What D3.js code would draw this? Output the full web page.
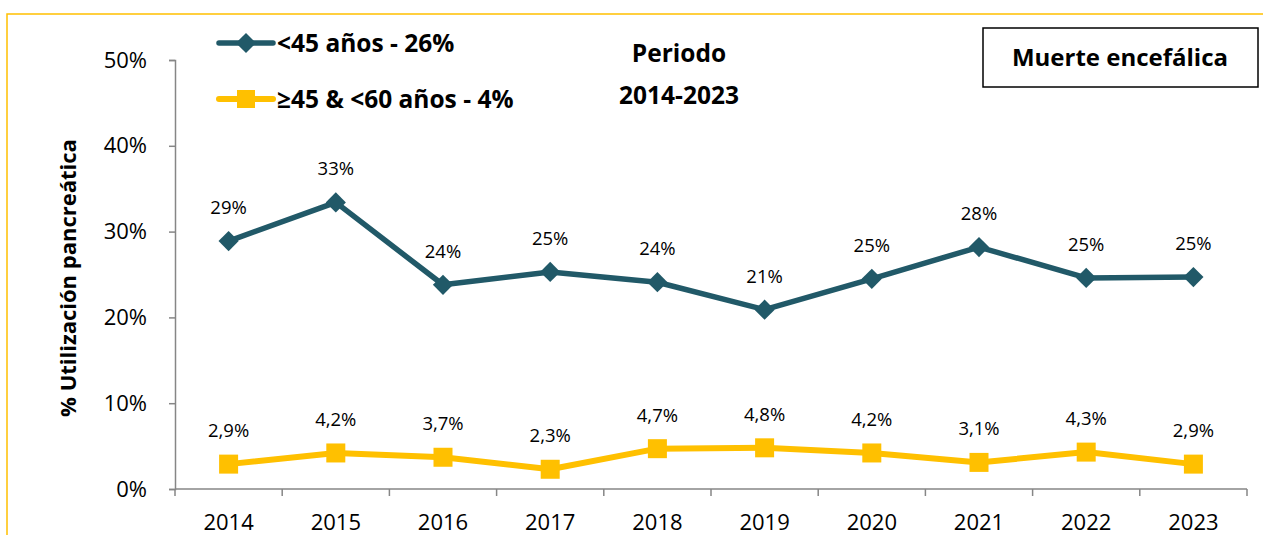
<!DOCTYPE html>
<html>
<head>
<meta charset="utf-8">
<script src="https://cdn.jsdelivr.net/npm/d3@7"></script>
<style>
  body { margin: 0; background: #fff; }
  svg { font-family: "Open Sans", sans-serif; }
</style>
</head>
<body>
<svg width="1263" height="535"></svg>
<script>
// chart values
var years = ["2014","2015","2016","2017","2018","2019","2020","2021","2022","2023"];
var under45 = [28.9, 33.4, 23.8, 25.3, 24.1, 20.9, 24.5, 28.2, 24.6, 24.7];
var under45Labels = ["29%","33%","24%","25%","24%","21%","25%","28%","25%","25%"];
var from45to60 = [2.9, 4.2, 3.7, 2.3, 4.7, 4.8, 4.2, 3.1, 4.3, 2.9];
var from45to60Labels = ["2,9%","4,2%","3,7%","2,3%","4,7%","4,8%","4,2%","3,1%","4,3%","2,9%"];
var yTicks = [0, 10, 20, 30, 40, 50];
var legendNames = ["<45 años - 26%", "≥45 & <60 años - 4%"];

var svg = d3.select("svg");
var blue = "#215968", gold = "#FFC000", axisGrey = "#868686";

// outer yellow frame
svg.append("rect")
  .attr("x", 7).attr("y", 14).attr("width", 1270).attr("height", 540)
  .attr("fill", "none").attr("stroke", "#FFC000").attr("stroke-width", 1.5);

var x = d3.scaleBand().domain(years).range([175, 1247]);
var y = d3.scaleLinear().domain([0, 50]).range([489, 60]);

// axes
var yAxisG = svg.append("g")
  .attr("transform", "translate(175,0)")
  .call(d3.axisLeft(y).tickValues(yTicks).tickSize(6).tickPadding(22).tickFormat(function(d){ return d + "%"; }));
var xAxisG = svg.append("g")
  .attr("transform", "translate(0,489)")
  .call(d3.axisBottom(x).tickSize(0).tickPadding(25));

[yAxisG, xAxisG].forEach(function(g){
  g.select(".domain").attr("stroke", axisGrey).attr("stroke-width", 1.5);
  g.selectAll(".tick line").attr("stroke", axisGrey).attr("stroke-width", 1.5);
  g.selectAll(".tick text").attr("fill", "#000").style("font-size", "22px").style("font-family", "Open Sans");
});
xAxisG.select(".domain").attr("d", "M175,0H1247");
// tick marks between categories
xAxisG.selectAll(".sep").data(d3.range(years.length + 1)).enter().append("line")
  .attr("x1", function(i){ return 175 + i * x.bandwidth(); })
  .attr("x2", function(i){ return 175 + i * x.bandwidth(); })
  .attr("y1", 0).attr("y2", 7)
  .attr("stroke", axisGrey).attr("stroke-width", 1.5);

// y axis title
svg.append("text")
  .attr("transform", "translate(76,278) rotate(-90)")
  .attr("text-anchor", "middle")
  .style("font-size", "22px").style("font-weight", "bold")
  .text("% Utilización pancreática");

var cx = function(d, i){ return x(years[i]) + x.bandwidth() / 2; };
var line = d3.line().x(cx).y(function(d){ return y(d); });

// series 1 - diamonds
svg.append("path").datum(under45)
  .attr("d", line).attr("fill", "none")
  .attr("stroke", blue).attr("stroke-width", 5.5).attr("stroke-linejoin", "round");
svg.selectAll(".dia").data(under45).enter().append("path")
  .attr("d", d3.symbol().type(d3.symbolDiamond2).size(260))
  .attr("transform", function(d, i){ return "translate(" + cx(d, i) + "," + y(d) + ")"; })
  .attr("fill", blue);
svg.selectAll(".lab1").data(under45).enter().append("text")
  .attr("x", cx).attr("y", function(d){ return y(d) - 27; })
  .attr("text-anchor", "middle").style("font-size", "18.5px")
  .text(function(d, i){ return under45Labels[i]; });

// series 2 - squares
svg.append("path").datum(from45to60)
  .attr("d", line).attr("fill", "none")
  .attr("stroke", gold).attr("stroke-width", 6).attr("stroke-linejoin", "round");
svg.selectAll(".sq").data(from45to60).enter().append("rect")
  .attr("x", function(d, i){ return cx(d, i) - 9.5; })
  .attr("y", function(d){ return y(d) - 9.5; })
  .attr("width", 19).attr("height", 19).attr("fill", gold);
svg.selectAll(".lab2").data(from45to60).enter().append("text")
  .attr("x", cx).attr("y", function(d){ return y(d) - 27; })
  .attr("text-anchor", "middle").style("font-size", "18.5px")
  .text(function(d, i){ return from45to60Labels[i]; });

// legend
var legY = [43, 99];
legY.forEach(function(ly, k){
  var col = k === 0 ? blue : gold;
  svg.append("line").attr("x1", 219).attr("x2", 273).attr("y1", ly).attr("y2", ly)
    .attr("stroke", col).attr("stroke-width", k === 0 ? 5.5 : 6).attr("stroke-linecap", "round");
  if (k === 0) {
    svg.append("path").attr("d", d3.symbol().type(d3.symbolDiamond2).size(260))
      .attr("transform", "translate(246," + ly + ")").attr("fill", col);
  } else {
    svg.append("rect").attr("x", 237).attr("y", ly - 9).attr("width", 18).attr("height", 18).attr("fill", col);
  }
  svg.append("text").attr("x", 277).attr("y", ly + 9)
    .style("font-size", "24.5px").style("font-weight", "bold")
    .text(legendNames[k]);
});

// period note
svg.append("text").attr("x", 679).attr("y", 62).attr("text-anchor", "middle")
  .style("font-size", "24.5px").style("font-weight", "bold").text("Periodo");
svg.append("text").attr("x", 679).attr("y", 104).attr("text-anchor", "middle")
  .style("font-size", "24.5px").style("font-weight", "bold").text("2014-2023");

// title box
svg.append("rect").attr("x", 983).attr("y", 28).attr("width", 275).attr("height", 59)
  .attr("fill", "#fff").attr("stroke", "#000").attr("stroke-width", 1.5);
svg.append("text").attr("x", 1120).attr("y", 66).attr("text-anchor", "middle")
  .style("font-size", "24px").style("font-weight", "bold").text("Muerte encefálica");
</script>
</body>
</html>
